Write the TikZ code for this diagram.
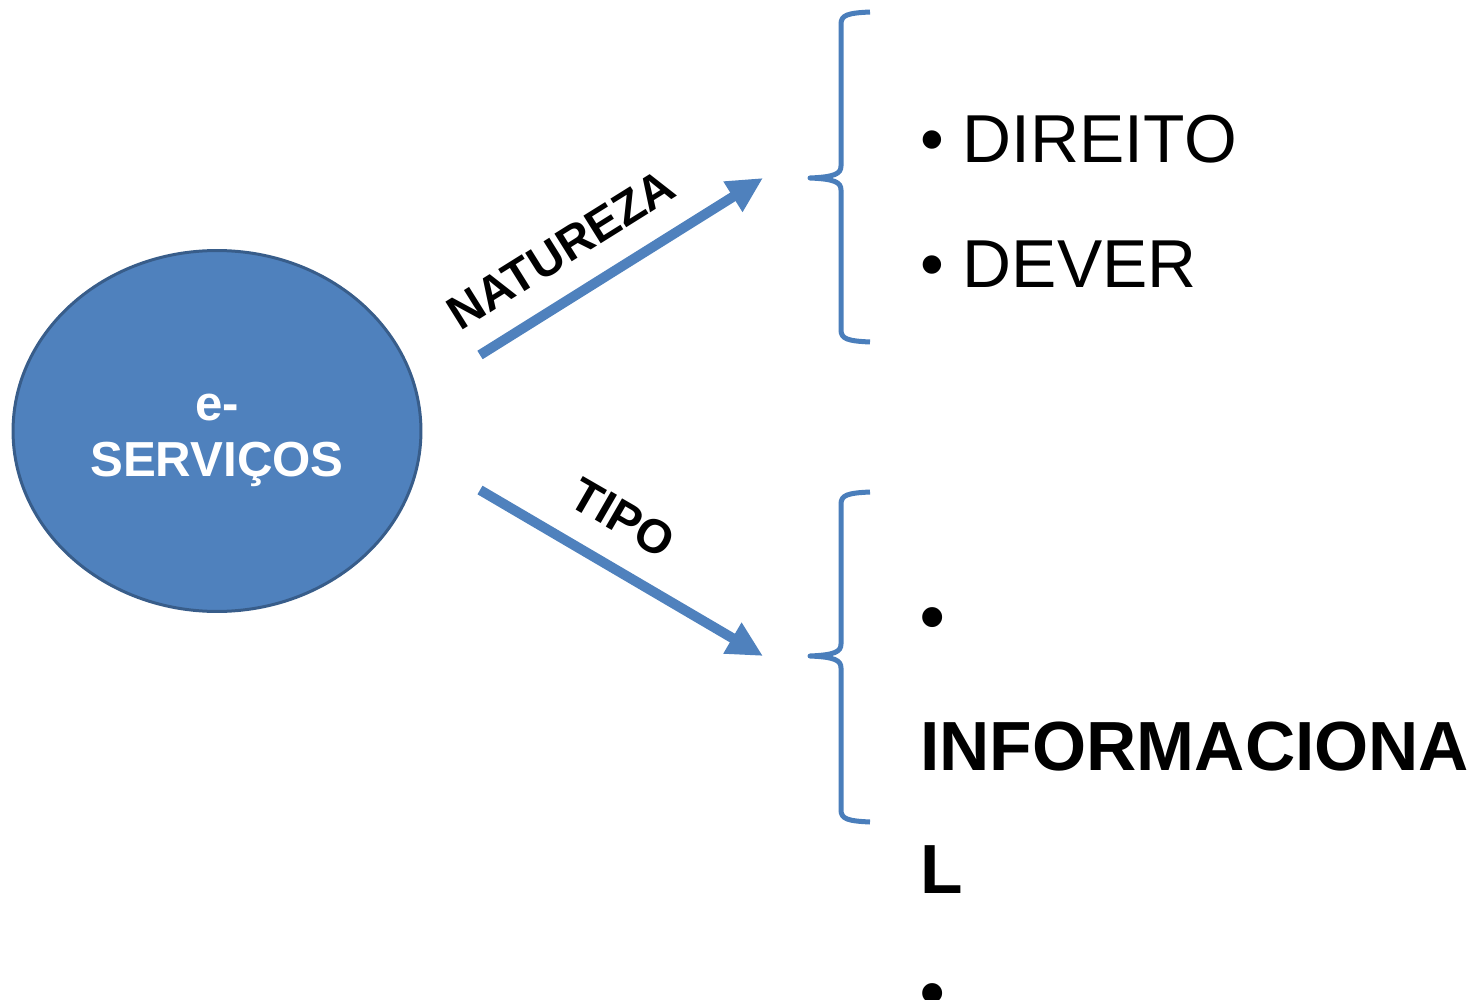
\documentclass[tikz,border=0pt]{standalone}
\usepackage{fontspec}
\setmainfont{Liberation Sans}
\usepackage{tikz}
\usetikzlibrary{shapes.geometric, arrows.meta, positioning}
\definecolor{myblue}{RGB}{79,129,189}
\definecolor{myedge}{RGB}{56,93,138}
\definecolor{mybrace}{RGB}{74,126,187}
\tikzset{
  hub/.style={ellipse, draw=myedge, fill=myblue, line width=0.06cm,
    minimum width=8.16cm, minimum height=7.22cm, inner sep=0pt},
  hubtext/.style={align=center, text=white, inner sep=0pt,
    font=\fontsize{28}{32}\selectfont\bfseries},
  bigarrow/.style={-{Triangle[length=0.71cm, width=0.67cm]}, line width=0.2cm, color=myblue},
  brace/.style={line width=0.1cm, color=mybrace, line join=round},
  arrowlabel/.style={font=\fontsize{27}{29}\selectfont\bfseries, inner sep=0pt},
  item/.style={anchor=base west, inner sep=0pt, font=\fontsize{38.6}{40}\selectfont},
  bolditem/.style={anchor=base west, inner sep=0pt, font=\fontsize{39.6}{40}\selectfont\bfseries}
}
\begin{document}
\begin{tikzpicture}[x=0.02cm, y=-0.02cm]
  \useasboundingbox (0,0) rectangle (1474,1000);

  \node[hub] (srv) at (217,431) {};
  \node[hubtext] (srvtext) at (217,440) {e-\\SERVIÇOS};

  % arrow ends
  \coordinate (natS) at (480,355);
  \coordinate (natE) at (763,178);
  \coordinate (tipS) at (480,490);
  \coordinate (tipE) at (763,656);

  \draw[bigarrow] (natS) -- (natE);
  \draw[bigarrow] (tipS) -- (tipE);

  \node[arrowlabel, rotate=32] (nat) at (561,250) {NATUREZA};
  \node[arrowlabel, rotate=-30] (tipo) at (623,518) {TIPO};

  % braces
  \draw[brace] (870,12) .. controls (848,13) and (841,15) .. (841,24) -- (841,166)
    .. controls (841,174) and (834,177) .. (810,178)
    .. controls (834,179) and (841,182) .. (841,190) -- (841,330)
    .. controls (841,339) and (848,341) .. (870,342);
  \draw[brace] (870,492) .. controls (848,493) and (841,495) .. (841,504) -- (841,644)
    .. controls (841,652) and (834,655) .. (810,656)
    .. controls (834,657) and (841,660) .. (841,668) -- (841,810)
    .. controls (841,819) and (848,821) .. (870,822);

  \node[item] (dir) at (920,163) {• DIREITO};
  \node[item] (dev) at (920,288) {• DEVER};

  \node[bolditem] (bulA) at (920,640) {•};
  \node[bolditem] (info) at (920,770) {INFORMACIONA};
  \node[bolditem] (infoL) at (920,893) {L};
  \node[bolditem] (bulB) at (920,1016) {•};
\end{tikzpicture}
\end{document}
